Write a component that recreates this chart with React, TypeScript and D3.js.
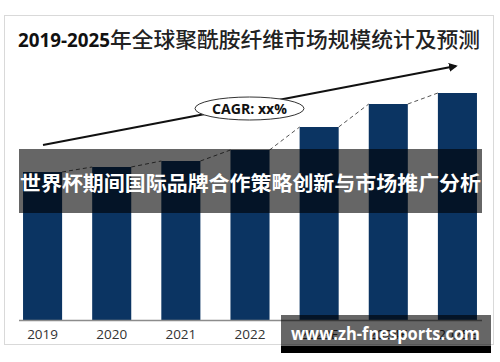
import { useRef, useEffect } from 'react';
import * as d3 from 'd3';

const years = ['2019', '2020', '2021', '2022', '2023E', '2024E', '2025E'];
const marketSize = [148, 153, 159, 170, 193, 216, 227];
const titleYears = '2019-2025';
const titleRest = '年全球聚酰胺纤维市场规模统计及预测';
const cagrLabel = 'CAGR: xx%';
const bannerText = '世界杯期间国际品牌合作策略创新与市场推广分析';
const watermark = 'www.zh-fnesports.com';

const BAR = '#0b3462';
const CJK = '"Noto Sans CJK SC", "Open Sans", sans-serif';

export default function App() {
  const svgRef = useRef<SVGSVGElement>(null);

  useEffect(() => {
    if (!svgRef.current) return;
    const svg = d3.select(svgRef.current);
    svg.selectAll('*').remove();

    const width = 500;
    const height = 362;
    const baseY = 320;

    svg.append('rect').attr('width', width).attr('height', height).attr('fill', '#fff');

    // outer frame
    svg.append('rect')
      .attr('x', 4.5).attr('y', 15.5).attr('width', 489).attr('height', 329)
      .attr('fill', 'none').attr('stroke', '#d9d9d9').attr('stroke-width', 1);

    // title: bold digits, lighter Chinese
    svg.append('text')
      .attr('x', 18).attr('y', 47)
      .attr('font-family', '"Open Sans", sans-serif').attr('font-weight', 700).attr('font-size', 20)
      .attr('textLength', 92).attr('lengthAdjust', 'spacingAndGlyphs')
      .attr('fill', '#111')
      .text(titleYears);
    svg.append('text')
      .attr('x', 110).attr('y', 47)
      .attr('textLength', 370).attr('lengthAdjust', 'spacingAndGlyphs')
      .attr('font-family', CJK).attr('font-weight', 500).attr('font-size', 21)
      .attr('fill', '#222')
      .text(titleRest);

    const x = d3.scaleBand<string>().domain(years).range([8, 492]).paddingInner(0.435).paddingOuter(0.2175);
    const y = d3.scaleLinear().domain([0, 250]).range([baseY, 70]);

    // growth arrow
    const defs = svg.append('defs');
    defs.append('marker')
      .attr('id', 'arrowhead')
      .attr('viewBox', '0 0 10 10')
      .attr('refX', 8).attr('refY', 5)
      .attr('markerWidth', 4).attr('markerHeight', 4)
      .attr('orient', 'auto')
      .append('path').attr('d', 'M0,0 L10,5 L0,10 Z').attr('fill', '#111');

    svg.append('line')
      .attr('x1', 43).attr('y1', 145).attr('x2', 456).attr('y2', 66)
      .attr('stroke', '#111').attr('stroke-width', 2.2)
      .attr('marker-end', 'url(#arrowhead)');

    svg.append('ellipse')
      .attr('cx', 249.5).attr('cy', 108.5).attr('rx', 54.5).attr('ry', 11.5)
      .attr('fill', '#fff').attr('stroke', '#333').attr('stroke-width', 1);
    svg.append('text')
      .attr('x', 212).attr('y', 114)
      .attr('textLength', 75).attr('lengthAdjust', 'spacingAndGlyphs')
      .attr('font-family', '"Open Sans", sans-serif').attr('font-weight', 700).attr('font-size', 15)
      .attr('fill', '#111')
      .text(cagrLabel);

    const data = years.map((yr, i) => ({ yr, v: marketSize[i] }));

    svg.append('g').selectAll('rect').data(data).join('rect')
      .attr('x', (d) => x(d.yr)!)
      .attr('y', (d) => y(d.v))
      .attr('width', x.bandwidth())
      .attr('height', (d) => baseY - y(d.v))
      .attr('fill', BAR);

    // dashed connectors between bar tops
    svg.append('g').selectAll('line').data(data.slice(1)).join('line')
      .attr('x1', (_, i) => x(data[i].yr)! + x.bandwidth())
      .attr('y1', (_, i) => y(data[i].v))
      .attr('x2', (d) => x(d.yr)!)
      .attr('y2', (d) => y(d.v))
      .attr('stroke', '#555').attr('stroke-width', 1).attr('stroke-dasharray', '4,3');

    // axis
    svg.append('line')
      .attr('x1', 19).attr('x2', 482).attr('y1', baseY + 0.5).attr('y2', baseY + 0.5)
      .attr('stroke', '#8c8c8c').attr('stroke-width', 1.5);

    svg.append('g').selectAll('text').data(years).join('text')
      .attr('x', (d) => x(d)! + x.bandwidth() / 2)
      .attr('y', 339)
      .attr('text-anchor', 'middle')
      .attr('font-family', '"Open Sans", sans-serif').attr('font-size', 13.5)
      .attr('fill', '#333')
      .text((d) => d);

    // overlay banner
    svg.append('rect')
      .attr('x', 19).attr('y', 149).attr('width', 463).attr('height', 64)
      .attr('fill', 'rgba(0,0,0,0.6)');
    svg.append('text')
      .attr('x', 250.5).attr('y', 190.5).attr('text-anchor', 'middle')
      .attr('textLength', 461).attr('lengthAdjust', 'spacingAndGlyphs')
      .attr('font-family', CJK).attr('font-weight', 700).attr('font-size', 20)
      .attr('fill', '#fff')
      .text(bannerText);

    // watermark
    svg.append('rect')
      .attr('x', 281).attr('y', 315).attr('width', 210).attr('height', 31)
      .attr('fill', 'rgba(0,0,0,0.6)');
    svg.append('rect')
      .attr('x', 281).attr('y', 346).attr('width', 210).attr('height', 7)
      .attr('fill', '#000');
    svg.append('text')
      .attr('x', 291).attr('y', 340)
      .attr('textLength', 189).attr('lengthAdjust', 'spacingAndGlyphs')
      .attr('font-family', '"Open Sans", sans-serif').attr('font-weight', 700).attr('font-size', 17)
      .attr('fill', '#fff')
      .text(watermark);
  }, []);

  return (
    <svg
      ref={svgRef}
      width={500}
      height={362}
      style={{ position: 'absolute', left: 0, top: 0, display: 'block' }}
    />
  );
}
